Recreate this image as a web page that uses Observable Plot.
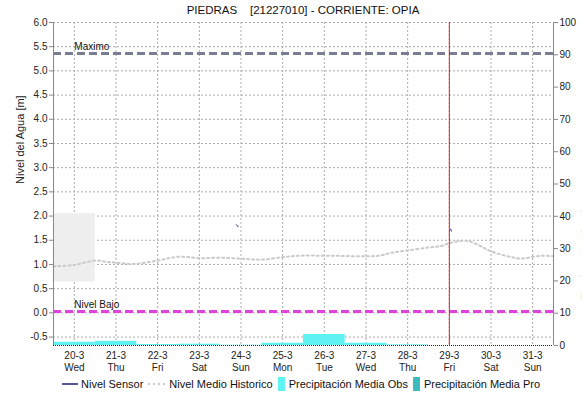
<!DOCTYPE html>
<html>
<head>
<meta charset="utf-8">
<script src="https://cdn.jsdelivr.net/npm/d3@7"></script>
<script src="https://cdn.jsdelivr.net/npm/@observablehq/plot@0.6"></script>
<style>
  body { margin: 0; background: #fff; font-family: "Liberation Sans", Arial, sans-serif; }
  #wrap { position: relative; width: 582px; height: 401px; overflow: hidden; }
  #title { position: absolute; left: 53px; top: 4px; width: 500px; text-align: center;
           font-size: 11.5px; color: #111; white-space: pre; z-index: 2; }
  #chart { position: absolute; left: 0; top: 0; }
  #legend { position: absolute; left: 62px; top: 377px; display: flex; align-items: center;
            font-size: 11px; color: #111; white-space: nowrap; }
  #legend .item { display: flex; align-items: center; margin-right: 5px; }
  #legend svg { margin-right: 3px; }
</style>
</head>
<body>
<div id="wrap">
  <div id="title">PIEDRAS    [21227010] - CORRIENTE: OPIA</div>
  <div id="chart"></div>
  <div id="legend"></div>
</div>
<script>
// Day-of-month labels along the time axis (March 2024)
const tickDays = [20, 21, 22, 23, 24, 25, 26, 27, 28, 29, 30, 31];
const tickDayLabels = ["20-3", "21-3", "22-3", "23-3", "24-3", "25-3", "26-3", "27-3", "28-3", "29-3", "30-3", "31-3"];
const tickWeekdays = ["Wed", "Thu", "Fri", "Sat", "Sun", "Mon", "Tue", "Wed", "Thu", "Fri", "Sat", "Sun"];

// Water level ticks (m) and precipitation ticks (mm)
const levelTicks = [-0.5, 0.0, 0.5, 1.0, 1.5, 2.0, 2.5, 3.0, 3.5, 4.0, 4.5, 5.0, 5.5, 6.0];
const precipTicks = [0, 10, 20, 30, 40, 50, 60, 70, 80, 90, 100];

// Historic mean level: days after 20-3 00:00, level in m
const histDay =   [-0.5, 0, 0.5, 0.8, 1.0, 1.4, 2.0, 2.5, 3.0, 3.5, 4.0, 4.5, 5.0, 5.4, 6.1, 7.3, 7.6, 8.0, 8.5, 8.8, 9.0, 9.4, 9.7, 10.0, 10.5, 10.7, 11.2, 11.5];
const histLevel = [0.96, 0.99, 1.08, 1.05, 1.04, 1.01, 1.08, 1.16, 1.13, 1.14, 1.12, 1.10, 1.15, 1.18, 1.18, 1.18, 1.24, 1.29, 1.35, 1.38, 1.44, 1.49, 1.40, 1.27, 1.15, 1.12, 1.18, 1.17];

// Sensor readings (sparse): segment id, days after 20-3 00:00, level in m
const sensorSeg =   [0, 0, 1, 1];
const sensorDay =   [3.89, 3.93, 9.03, 9.05];
const sensorLevel = [1.82, 1.78, 1.73, 1.69];

// Observed mean daily precipitation (mm)
const precipDays = [20, 21, 22, 23, 24, 25, 26, 27, 28];
const precipObs =  [1.0, 1.3, 0.3, 0.4, 0.1, 0.7, 3.4, 0.7, 0.2];

// Reference levels (m)
const levelMaximo = 5.36;
const levelBajo = 0.03;

// Highlighted band on the first day
const bandStartDay = -0.5, bandEndDay = 0.5, bandLow = 0.64, bandHigh = 2.05;

// Current time marker (days after 20-3 00:00)
const nowDay = 9;

const base = Date.UTC(2024, 2, 20);
const fromDay = d => new Date(base + d * 864e5);
const dateOf = dom => new Date(Date.UTC(2024, 2, dom));

const yMin = -0.675, yMax = 6.0;
// precipitation axis spans the same frame: 0 mm at the bottom, 100 mm at the top
const toLevel = p => yMin + p * (yMax - yMin) / 100;
const fromLevel = v => (v - yMin) * 100 / (yMax - yMin);

const xMin = fromDay(-0.5), xMax = fromDay(11.5);

const hist = histDay.map((d, i) => ({t: fromDay(d), v: histLevel[i]}));
const sensor = sensorDay.map((d, i) => ({t: fromDay(d), v: sensorLevel[i], s: sensorSeg[i]}));
const precip = precipDays.map((d, i) => ({
  t1: new Date(+dateOf(d) - 432e5), t2: new Date(+dateOf(d) + 432e5), p: precipObs[i]
}));
const ticks = tickDays.map((d, i) => ({t: dateOf(d), label: tickDayLabels[i] + "\n" + tickWeekdays[i]}));
const tickDates = ticks.map(d => d.t);

const chart = Plot.plot({
  width: 582,
  height: 375,
  marginLeft: 53,
  marginRight: 29,
  marginTop: 22,
  marginBottom: 30,
  style: {fontFamily: "'Liberation Sans', Arial, sans-serif", fontSize: "10px", color: "#222", background: "white", overflow: "visible"},
  x: {type: "utc", domain: [xMin, xMax], axis: null},
  y: {domain: [yMin, yMax]},
  marks: [
    Plot.gridY(levelTicks, {stroke: "#ababab", strokeOpacity: 1, strokeDasharray: "2,2"}),
    Plot.gridX(tickDates, {stroke: "#ababab", strokeOpacity: 1, strokeDasharray: "2,2"}),
    Plot.rect([0], {x1: () => fromDay(bandStartDay), x2: () => fromDay(bandEndDay), y1: () => bandLow, y2: () => bandHigh, fill: "#eeeeee"}),
    Plot.rect(precip, {x1: "t1", x2: "t2", y1: () => yMin, y2: d => toLevel(d.p), fill: "#5ef2f2"}),
    Plot.line(hist, {x: "t", y: "v", curve: "catmull-rom", stroke: "#cacaca", strokeWidth: 2, strokeDasharray: "2,3"}),
    Plot.ruleY([levelMaximo], {stroke: "#7a7e93", strokeWidth: 3, strokeDasharray: "8,4"}),
    Plot.ruleY([levelBajo], {stroke: "#dd44dd", strokeWidth: 3, strokeDasharray: "8,4"}),
    Plot.text(["Maximo"], {x: () => fromDay(0), y: () => levelMaximo, dy: -7, textAnchor: "start", fill: "#111"}),
    Plot.text(["Nivel Bajo"], {x: () => fromDay(0), y: () => levelBajo, dy: -7, textAnchor: "start", fill: "#111"}),
    Plot.ruleX([fromDay(nowDay)], {stroke: "#f01c1c", strokeWidth: 1}),
    Plot.line(sensor, {x: "t", y: "v", z: "s", stroke: "#1c1c7a", strokeWidth: 1}),
    Plot.ruleX([xMin], {stroke: "#888"}),
    Plot.ruleX([xMax], {stroke: "#888"}),
    Plot.ruleY([yMin], {stroke: "#222", strokeDasharray: "1,1"}),
    Plot.axisY(levelTicks, {anchor: "left", tickSize: 4, tickPadding: 2, stroke: "#888", tickFormat: d => d.toFixed(1), label: null}),
    Plot.axisY(precipTicks.map(toLevel), {anchor: "right", tickSize: 4, tickPadding: 2, stroke: "#888", tickFormat: d => String(Math.round(fromLevel(d))), label: null}),
    Plot.text(ticks, {x: "t", text: "label", frameAnchor: "bottom", lineAnchor: "top", dy: 5, lineHeight: 1.2, fill: "#222"}),
    Plot.text(["Nivel del Agua [m]"], {frameAnchor: "left", dx: -33, rotate: -90, fontSize: 11, fill: "#222"}),
    Plot.text(["Precipitación [mm]"], {frameAnchor: "right", dx: 33, dy: 25, rotate: -90, fontSize: 11, fill: "#222"})
  ]
});
document.getElementById("chart").appendChild(chart);

// Legend below the chart
const legendItems = [
  {label: "Nivel Sensor", kind: "line", color: "#1c1c7a"},
  {label: "Nivel Medio Historico", kind: "dots", color: "#c9c9c9"},
  {label: "Precipitación Media Obs", kind: "box", color: "#5ef2f2"},
  {label: "Precipitación Media Pro", kind: "box", color: "#3cbcbc"}
];
const legend = document.getElementById("legend");
for (const it of legendItems) {
  const item = document.createElement("span");
  item.className = "item";
  let sw;
  if (it.kind === "line") {
    sw = `<svg width="16" height="12"><line x1="0" x2="16" y1="6" y2="6" stroke="${it.color}" stroke-width="1.5"/></svg>`;
  } else if (it.kind === "dots") {
    sw = `<svg width="18" height="12"><line x1="0" x2="18" y1="6" y2="6" stroke="${it.color}" stroke-width="2" stroke-dasharray="2,3"/></svg>`;
  } else {
    sw = `<svg width="8" height="14"><rect x="0" y="0" width="7" height="14" fill="${it.color}"/></svg>`;
  }
  item.innerHTML = sw + `<span>${it.label}</span>`;
  legend.appendChild(item);
}
</script>
</body>
</html>
